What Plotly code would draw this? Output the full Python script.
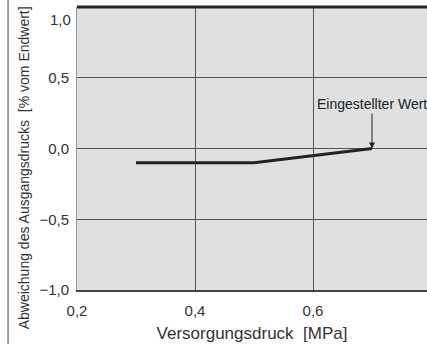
import plotly.graph_objects as go

# Data
pressure = [0.3, 0.5, 0.7]          # Versorgungsdruck [MPa]
deviation = [-0.1, -0.1, 0.0]       # Abweichung [% vom Endwert]
x_tickvals = [0.2, 0.4, 0.6, 0.8]
x_ticktext = ["0,2", "0,4", "0,6", "0,8"]
y_tickvals = [-1.0, -0.5, 0.0, 0.5, 1.0]
y_ticktext = ["\u22121,0", "\u22120,5", "0,0", "0,5", "1,0"]
setpoint_x, setpoint_y = 0.7, 0.0

fig = go.Figure()
fig.add_trace(go.Scatter(x=pressure, y=deviation, mode="lines",
                         line=dict(color="#222222", width=3), showlegend=False,
                         hoverinfo="skip"))

fig.update_layout(
    width=427, height=344,
    margin=dict(l=77, r=0, t=7, b=54),
    paper_bgcolor="white", plot_bgcolor="#dfe0e2",
    font=dict(family="Liberation Sans, Arial, sans-serif", size=15, color="#333333"),
    xaxis=dict(range=[0.2, 0.7932], tickvals=x_tickvals[:3], ticktext=x_ticktext[:3],
               showgrid=True, gridcolor="#555555", gridwidth=1.2, zeroline=False,
               showline=True, linecolor="#444444", linewidth=1.5, ticks="",
               ticklabelstandoff=6,
               tickfont=dict(size=15, color="#333333"),
               title=dict(text="Versorgungsdruck\u00a0\u00a0[MPa]", font=dict(size=17, color="#333333"),
                          standoff=9)),
    yaxis=dict(range=[-1.0, 1.0], tickvals=y_tickvals,
               ticktext=y_ticktext[:-1] + [""],
               showgrid=True, gridcolor="#555555", gridwidth=1, zeroline=False,
               showline=True, linecolor="#999999", linewidth=1, ticks="",
               ticklabeloverflow="allow", ticklabelstandoff=4,
               tickfont=dict(size=15, color="#333333")),
)

# y axis title (placed off-centre as in the original)
fig.add_annotation(x=-0.149, y=0.433, xref="paper", yref="paper",
                   text="Abweichung des Ausgangsdrucks\u00a0\u00a0[% vom Endwert]",
                   textangle=-90, showarrow=False, xanchor="center", yanchor="middle",
                   font=dict(size=14, color="#333333"))

# thick top frame line
fig.add_shape(type="line", xref="paper", yref="paper", x0=0, x1=1, y0=1, y1=1,
              line=dict(color="#222222", width=3))
# outer left frame line
fig.add_shape(type="line", xref="paper", yref="paper", x0=-0.197, x1=-0.197, y0=-0.3, y1=1.1,
              line=dict(color="#444444", width=1))

# 1,0 label shifted down inside the figure
fig.add_annotation(x=0, y=y_tickvals[-1], xref="paper", yref="y", text=y_ticktext[-1],
                   showarrow=False, xanchor="right", yanchor="middle", xshift=-4, yshift=-12,
                   font=dict(size=15, color="#333333"))
# 0,8 label shifted inside
fig.add_annotation(x=x_tickvals[-1], y=0, xref="x", yref="paper", text=x_ticktext[-1],
                   showarrow=False, xanchor="center", yanchor="top", xshift=-18, yshift=-10,
                   font=dict(size=15, color="#333333"))

# setpoint annotation
fig.add_annotation(x=setpoint_x, y=setpoint_y, xref="x", yref="y",
                   text="Eingestellter Wert", showarrow=True, arrowhead=2, arrowsize=1.2,
                   arrowwidth=1, arrowcolor="#222222", ax=0, ay=-35,
                   xanchor="center", yanchor="bottom",
                   font=dict(size=14, color="#222222"))

fig.write_html("out.html", config={"displayModeBar": False},
               post_script="document.body.style.margin='0';")
